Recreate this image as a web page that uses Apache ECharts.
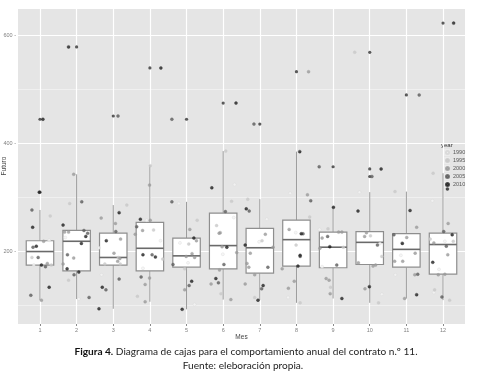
<!DOCTYPE html>
<html>
<head>
<meta charset="utf-8">
<script src="https://cdn.jsdelivr.net/npm/echarts@6/dist/echarts.min.js"></script>
<style>
  html, body { margin: 0; padding: 0; background: #fff; }
  #chart { width: 499px; height: 378px; }
</style>
</head>
<body>
<div id="chart"></div>
<script>
const months = ['1', '2', '3', '4', '5', '6', '7', '8', '9', '10', '11', '12']
// [min, Q1, median, Q3, max] per month
const boxStats = [
  [109, 174, 199, 219, 276],
  [111, 163, 218, 238, 342],
  [93, 174, 188, 233, 285],
  [106, 163, 205, 253, 359],
  [92, 170, 191, 224, 291],
  [110, 167, 210, 270, 385],
  [109, 159, 206, 242, 296],
  [104, 172, 221, 257, 384],
  [112, 169, 207, 235, 281],
  [104, 175, 216, 236, 309],
  [112, 170, 203, 232, 310],
  [109, 157, 212, 233, 344]
]
// [month index, value]
const outliers = [
  [0, 309], [0, 444], [1, 578], [2, 450], [3, 539], [4, 444], [5, 474],
  [6, 435], [7, 532], [8, 356], [9, 338], [9, 352], [9, 568], [10, 489], [11, 622]
]
const years = [1990, 1995, 2000, 2005, 2010]
const yearColors = ['#f4f4f4', '#c8c8c8', '#9a9a9a', '#5c5c5c', '#202020']
// jittered points: [month + jitter, value, year]
const jitterPoints = [
  [0.98, 309, 2010], [0.78, 276, 2005], [1.28, 265, 1995], [0.80, 244, 2010], [1.10, 218, 2000], [1.25, 220, 1990], [0.81, 207, 2005], [0.90, 209, 2010], [0.95, 188, 2005], [0.78, 188, 1995], [0.83, 174, 1990], [1.04, 174, 2010], [1.15, 171, 2005], [1.20, 177, 2000], [1.31, 174, 1995], [1.25, 133, 2010], [0.75, 118, 2005], [1.04, 109, 2000], [1.08, 444, 2010],
  [1.92, 342, 2000], [1.81, 288, 1995], [2.14, 291, 2005], [1.63, 248, 2010], [1.67, 235, 2000], [1.78, 235, 2000], [2.20, 238, 2005], [2.25, 227, 2010], [2.30, 233, 2005], [1.69, 225, 1990], [2.13, 214, 2010], [1.75, 193, 2005], [1.92, 187, 2000], [1.63, 176, 2000], [1.74, 167, 2010], [1.93, 156, 2005], [2.06, 161, 2010], [1.78, 146, 1995], [2.06, 111, 1990], [2.34, 114, 2005], [1.78, 578, 2010],
  [3.37, 285, 1995], [3.16, 271, 2010], [2.67, 261, 2000], [3.06, 251, 2000], [3.07, 236, 2005], [2.81, 219, 2010], [3.20, 222, 2000], [2.61, 206, 1990], [3.02, 196, 2000], [3.14, 188, 1995], [3.18, 186, 2000], [3.12, 181, 2000], [3.19, 176, 1995], [2.77, 176, 1995], [2.68, 156, 1990], [3.16, 148, 2005], [2.70, 133, 2010], [2.80, 128, 2005], [2.61, 93, 2010], [3.13, 450, 2005],
  [4.01, 358, 1995], [3.99, 322, 2000], [3.91, 257, 1990], [3.74, 259, 2010], [4.01, 257, 2000], [3.64, 245, 2005], [3.80, 238, 2000], [4.10, 239, 1995], [3.60, 231, 2000], [4.29, 219, 1990], [3.81, 193, 2010], [4.06, 193, 2005], [4.15, 189, 2010], [4.35, 185, 1995], [3.81, 168, 1990], [3.76, 152, 2005], [3.99, 150, 2000], [3.87, 138, 2000], [3.66, 116, 1995], [3.87, 106, 2000], [4.30, 539, 2010],
  [4.60, 291, 2005], [4.79, 288, 1990], [5.29, 257, 1995], [5.09, 240, 2000], [5.20, 224, 2010], [5.27, 219, 2000], [4.82, 215, 1990], [5.06, 213, 1995], [5.15, 195, 2000], [4.99, 190, 2000], [5.22, 188, 2000], [4.63, 175, 2005], [5.04, 178, 1990], [4.95, 167, 1995], [5.14, 144, 2010], [5.07, 136, 2005], [4.95, 128, 2000], [5.22, 101, 1990], [4.88, 92, 2010], [4.60, 444, 2005],
  [6.07, 385, 1995], [6.31, 323, 1990], [5.69, 317, 2010], [6.23, 292, 1995], [6.06, 273, 2005], [6.29, 262, 1990], [5.82, 247, 1995], [5.92, 234, 2000], [5.89, 233, 2000], [5.97, 208, 2000], [6.10, 207, 2010], [5.99, 194, 1990], [6.37, 197, 2000], [6.02, 175, 2005], [5.90, 165, 2000], [5.80, 149, 2010], [5.87, 141, 2005], [5.67, 139, 2000], [5.94, 121, 1995], [6.21, 110, 2000], [6.35, 474, 2010],
  [6.67, 296, 1995], [6.63, 278, 2010], [6.71, 274, 2005], [7.19, 259, 1990], [7.15, 231, 2000], [7.06, 219, 1995], [6.98, 217, 1990], [6.60, 211, 2010], [7.36, 207, 2000], [6.74, 196, 2000], [6.65, 177, 2000], [6.70, 170, 2000], [7.22, 170, 2005], [6.86, 156, 2000], [6.60, 139, 2000], [7.09, 136, 2010], [7.05, 130, 2005], [6.86, 114, 1995], [6.95, 109, 2010], [6.84, 435, 2005],
  [8.09, 384, 2010], [7.83, 307, 1990], [8.30, 304, 2000], [8.39, 293, 2005], [8.36, 263, 1995], [7.80, 240, 2000], [7.98, 234, 1990], [8.13, 232, 2010], [8.18, 232, 2005], [7.99, 211, 1995], [8.10, 192, 2010], [8.10, 190, 2005], [8.04, 172, 2010], [7.61, 167, 2000], [7.94, 144, 2000], [7.78, 131, 2000], [7.77, 114, 1990], [8.10, 104, 1995], [8.33, 532, 2000],
  [9.01, 281, 2010], [8.86, 241, 1995], [8.63, 240, 1990], [9.24, 235, 2000], [9.15, 235, 2000], [8.85, 227, 2005], [8.70, 224, 2000], [8.91, 208, 2010], [8.64, 205, 2000], [9.28, 207, 1995], [9.10, 174, 2005], [8.70, 171, 1990], [8.81, 149, 2000], [8.89, 146, 2000], [8.93, 133, 1995], [8.92, 121, 2000], [9.24, 112, 2010], [8.62, 356, 2005],
  [9.72, 309, 1990], [9.68, 274, 2010], [9.91, 234, 2000], [9.86, 227, 2000], [10.02, 228, 1995], [10.21, 211, 2005], [10.28, 214, 1990], [10.33, 190, 1995], [9.69, 178, 2000], [10.09, 172, 2000], [10.16, 174, 2000], [9.99, 134, 2010], [9.87, 130, 2000], [10.33, 120, 1990], [10.24, 104, 1995], [10.06, 338, 2005], [10.31, 352, 2010], [9.59, 568, 1995],
  [10.69, 310, 1995], [11.10, 275, 2010], [11.28, 244, 2000], [10.66, 230, 2005], [11.01, 225, 2000], [10.89, 214, 2010], [10.85, 192, 1990], [10.88, 215, 1995], [11.24, 196, 2000], [10.68, 181, 2000], [10.90, 181, 2000], [10.70, 156, 1990], [11.31, 157, 2005], [11.23, 156, 2000], [11.28, 119, 2010], [10.95, 112, 2000], [11.35, 489, 2005],
  [11.73, 344, 1995], [12.12, 315, 2010], [11.71, 293, 1990], [12.14, 251, 2000], [12.02, 236, 2005], [12.25, 230, 2010], [11.65, 222, 1995], [12.05, 218, 1990], [12.28, 218, 1995], [11.75, 215, 2000], [12.09, 209, 2005], [12.13, 193, 2000], [11.72, 179, 2010], [11.89, 166, 1990], [11.87, 156, 2000], [12.05, 157, 2000], [11.77, 128, 1995], [11.75, 123, 1990], [11.97, 115, 2005], [12.18, 109, 1995], [12.29, 622, 2010]
]

const Y_MIN = 64.8
const Y_MAX = 650
// ggplot panel, and the category band grid inside it (0.6 expansion each side)
const panel = { left: 18, top: 8, width: 447, height: 316 }
const unit = panel.width / 12.2
const font = 'Liberation Sans'
const captionFont = 'Lato'

const chart = echarts.init(document.getElementById('chart'))

// ggplot-style boxes: no whisker caps, darker median
const renderBox = (params, api) => {
  const x = api.value(0)
  const halfW = api.size([0.75, 0])[0] / 2
  const pMin = api.coord([x, api.value(1)])
  const pQ1 = api.coord([x, api.value(2)])
  const pMed = api.coord([x, api.value(3)])
  const pQ3 = api.coord([x, api.value(4)])
  const pMax = api.coord([x, api.value(5)])
  const whisker = { stroke: '#9a9a9a', lineWidth: 1 }
  return {
    type: 'group',
    children: [
      { type: 'line', shape: { x1: pMin[0], y1: pMin[1], x2: pQ1[0], y2: pQ1[1] }, style: whisker },
      { type: 'line', shape: { x1: pQ3[0], y1: pQ3[1], x2: pMax[0], y2: pMax[1] }, style: whisker },
      {
        type: 'rect',
        shape: { x: pQ3[0] - halfW, y: pQ3[1], width: halfW * 2, height: pQ1[1] - pQ3[1] },
        style: { fill: '#fff', stroke: '#8e8e8e', lineWidth: 1.2 }
      },
      {
        type: 'line',
        shape: { x1: pMed[0] - halfW, y1: pMed[1], x2: pMed[0] + halfW, y2: pMed[1] },
        style: { stroke: '#6a6a6a', lineWidth: 1.6 }
      }
    ]
  }
}

const jitterSeries = years.map((yr, i) => ({
  name: String(yr),
  type: 'scatter',
  xAxisIndex: 0,
  yAxisIndex: 0,
  symbol: 'circle',
  symbolSize: 3,
  itemStyle: { color: yearColors[i], borderColor: i === 0 ? '#d4d4d4' : yearColors[i], borderWidth: 0.4 },
  data: jitterPoints.filter((p) => p[2] === yr).map((p) => [p[0], p[1]]),
  z: 5
}))

const options = {
  animation: false,
  textStyle: { fontFamily: font },
  grid: [
    { left: panel.left, top: panel.top, width: panel.width, height: panel.height, backgroundColor: '#e5e5e5', show: true, borderWidth: 0, outerBoundsMode: 'none', containLabel: false },
    { left: panel.left + 0.1 * unit, top: panel.top, width: 12 * unit, height: panel.height, outerBoundsMode: 'none', containLabel: false }
  ],
  xAxis: [
    { gridIndex: 0, type: 'value', min: 0.4, max: 12.6, show: false },
    {
      gridIndex: 1,
      type: 'category',
      data: months,
      boundaryGap: true,
      name: 'Mes',
      nameLocation: 'middle',
      nameGap: 10,
      nameMoveOverlap: false,
      nameTextStyle: { fontSize: 6.5, color: '#444' },
      axisLine: { show: false },
      axisTick: { show: true, alignWithLabel: true, length: 2, lineStyle: { color: '#888' } },
      axisLabel: { fontSize: 5.5, color: '#808080', margin: 3 },
      splitLine: { show: true, alignWithLabel: true, lineStyle: { color: '#fff', width: 1.2 } }
    }
  ],
  yAxis: [
    {
      gridIndex: 0,
      type: 'value',
      min: Y_MIN,
      max: Y_MAX,
      splitNumber: 6,
      axisLine: { show: false },
      axisTick: { show: false },
      axisLabel: { show: false },
      splitLine: { lineStyle: { color: '#f6f6f6', width: 0.6 } }
    },
    {
      gridIndex: 0,
      type: 'value',
      position: 'left',
      min: Y_MIN,
      max: Y_MAX,
      splitNumber: 3,
      name: 'Futuro',
      nameLocation: 'middle',
      nameGap: 10,
      nameMoveOverlap: false,
      nameTextStyle: { fontSize: 6.5, color: '#444' },
      axisLine: { show: false },
      axisTick: { show: false },
      axisLabel: { fontSize: 5.5, color: '#808080', margin: 2, showMinLabel: false, showMaxLabel: false, formatter: (v) => v + ' -' },
      splitLine: { lineStyle: { color: '#fff', width: 1.2 } }
    },
    { gridIndex: 1, type: 'value', min: Y_MIN, max: Y_MAX, show: false }
  ],
  legend: {
    orient: 'vertical',
    left: 445,
    top: 148.5,
    padding: 0,
    itemGap: 0,
    itemWidth: 3,
    itemHeight: 3,
    icon: 'circle',
    data: years.map(String),
    textStyle: { fontSize: 5.5, color: '#555', lineHeight: 8, padding: [0, 0, 0, -1] }
  },
  graphic: [
    ...years.map((yr, i) => ({
      type: 'rect',
      shape: { x: 443, y: 149 + 8 * i, width: 7, height: 7 },
      style: { fill: '#ececec' },
      z: 0
    })),
    { type: 'text', style: { x: 441, y: 145, text: 'year', fontSize: 6, fontFamily: font, fill: '#333', verticalAlign: 'middle' } },
    {
      type: 'text',
      style: {
        x: 246, y: 352, align: 'center', verticalAlign: 'middle',
        text: '{b|Figura 4.} Diagrama de cajas para el comportamiento anual del contrato n.º 11.',
        fontSize: 10.1, fontFamily: captionFont, fill: '#222',
        rich: { b: { fontWeight: 'bold', fontSize: 10.1, fontFamily: captionFont, fill: '#111' } }
      }
    },
    {
      type: 'text',
      style: { x: 243, y: 366, align: 'center', verticalAlign: 'middle', text: 'Fuente: eleboración propia.', fontSize: 10.1, fontFamily: captionFont, fill: '#222' }
    }
  ],
  series: [
    {
      type: 'custom',
      xAxisIndex: 0,
      yAxisIndex: 0,
      renderItem: renderBox,
      encode: { x: 0, y: [1, 2, 3, 4, 5] },
      data: boxStats.map((s, i) => [i + 1, ...s]),
      z: 3
    },
    {
      type: 'scatter',
      xAxisIndex: 1,
      yAxisIndex: 2,
      symbolSize: 3.2,
      itemStyle: { color: '#333' },
      data: outliers,
      z: 4
    },
    ...jitterSeries
  ]
}

chart.setOption(options)
</script>
</body>
</html>
